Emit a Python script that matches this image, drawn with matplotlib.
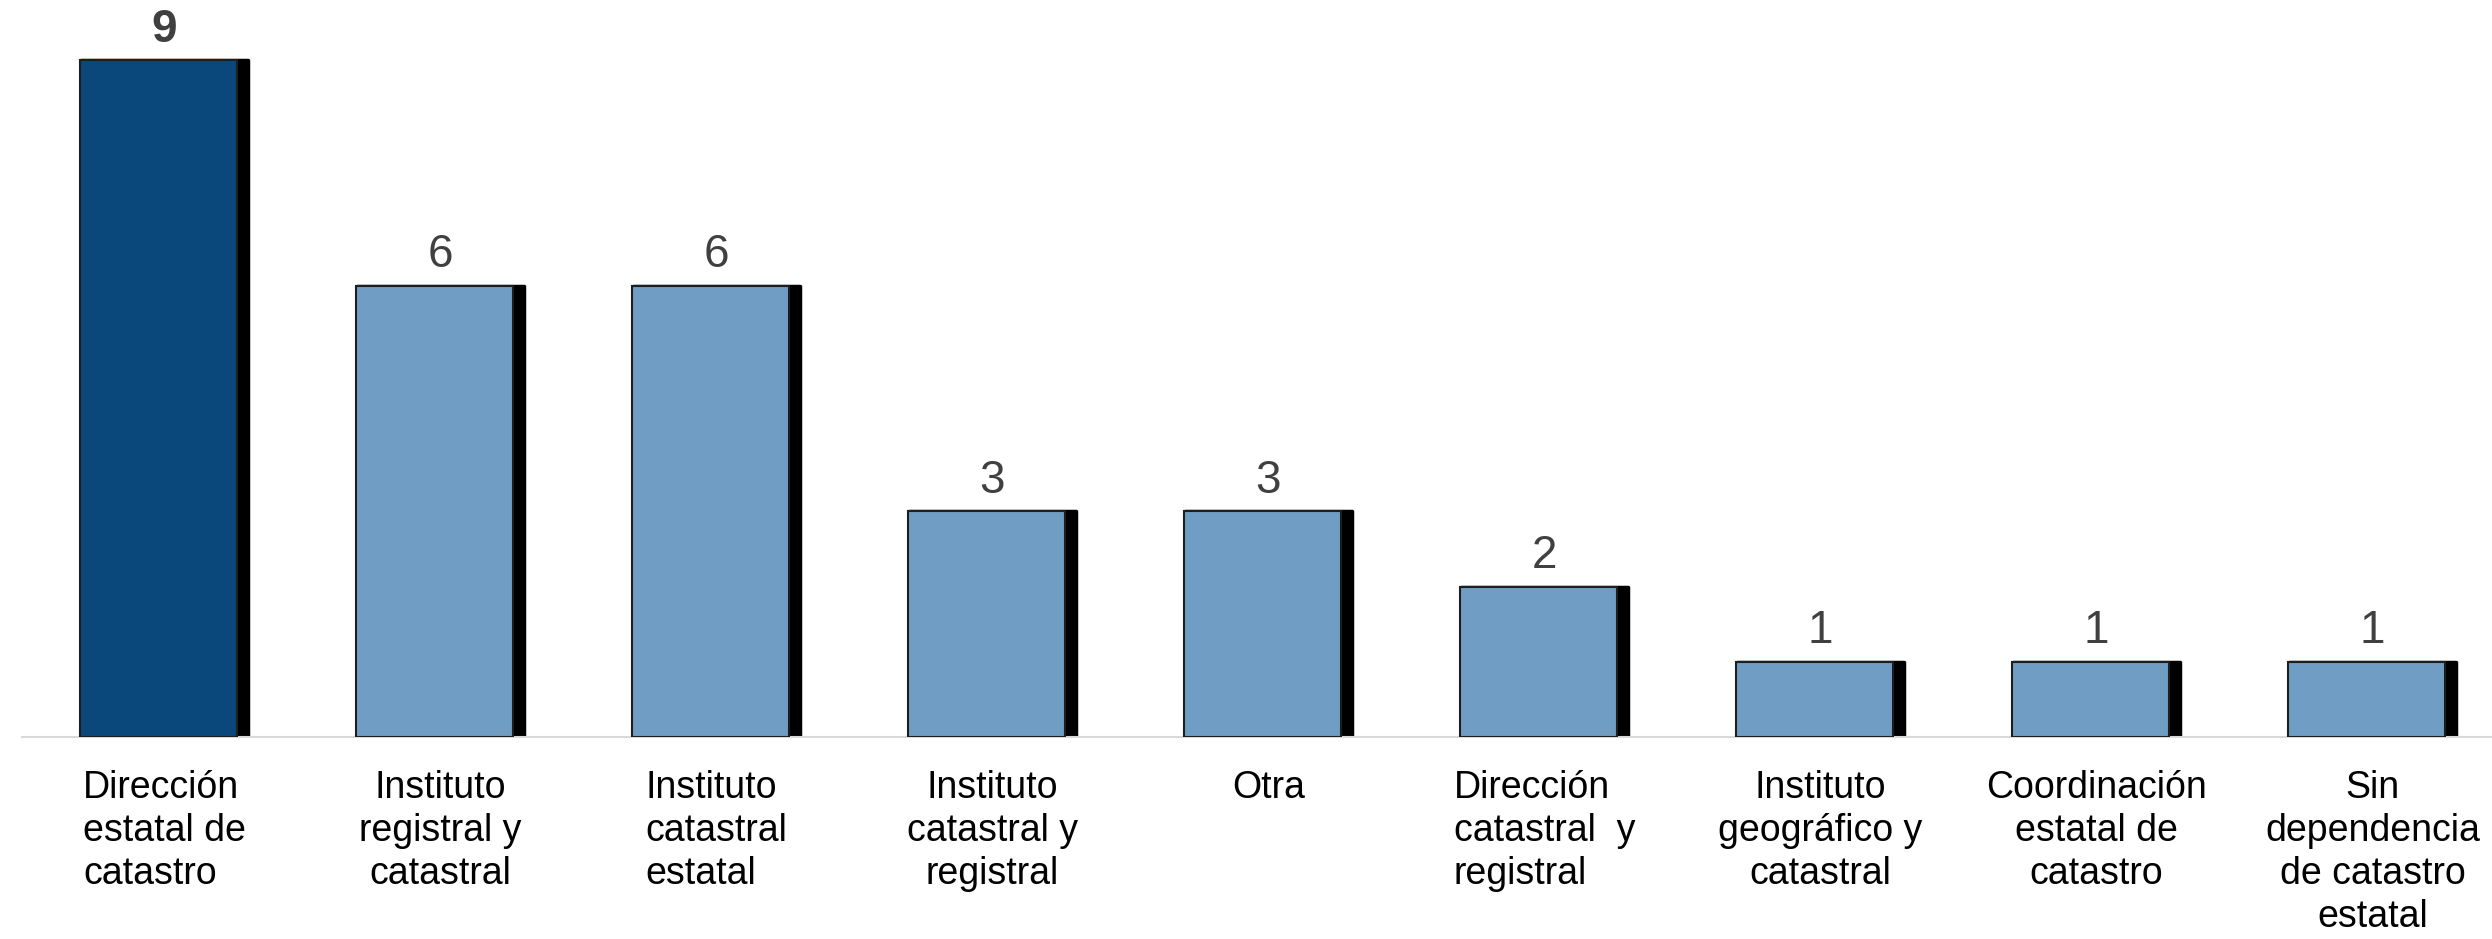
import matplotlib.pyplot as plt
import numpy as np

plt.rcParams['font.family'] = ['Liberation Sans', 'DejaVu Sans']

# data
categories = [
    "Dirección\nestatal de\ncatastro",
    "Instituto\nregistral y\ncatastral",
    "Instituto\ncatastral\nestatal",
    "Instituto\ncatastral y\nregistral",
    "Otra",
    "Dirección\ncatastral  y\nregistral",
    "Instituto\ngeográfico y\ncatastral",
    "Coordinación\nestatal de\ncatastro",
    "Sin\ndependencia\nde catastro\nestatal",
]
values = [9, 6, 6, 3, 3, 2, 1, 1, 1]
label_align = ['left', 'center', 'left', 'center', 'center', 'left',
               'center', 'center', 'center']

dark = '#0A487C'
light = '#6F9DC3'
colors = [dark] + [light] * 8

W, H = 2492, 939
fig = plt.figure(figsize=(W / 100, H / 100), dpi=100)
ax = fig.add_axes([22 / W, (H - 737) / H, 1 - 22 / W, 737 / H])

x = np.arange(len(values))
bw = 0.612
shadow = 0.043

# black shadow strip on the right (rounded corners), then the coloured body
sh = ax.bar(x, values, width=bw - 0.008, color='black', edgecolor='black',
            linewidth=2.5, joinstyle='round', zorder=2)
ax.bar(x - shadow / 2, values, width=bw - shadow, color=colors,
       edgecolor='#1e1e1e', linewidth=1.5, zorder=3)

labels = ax.bar_label(sh, labels=[str(v) for v in values], padding=6,
                      fontsize=33, color='#404040')
labels[0].set_fontweight('bold')

ax.set_xlim(-0.516, 8.433)
ax.set_ylim(0, 9.8)

ax.set_xticks(x)
ax.set_xticklabels(categories, fontsize=27, color='black', linespacing=1.25)
for t, a in zip(ax.get_xticklabels(), label_align):
    t.set_multialignment(a)
ax.tick_params(axis='x', length=0, pad=24)
ax.set_yticks([])

for s in ['top', 'right', 'left']:
    ax.spines[s].set_visible(False)
ax.spines['bottom'].set_color('#d9d9d9')
ax.spines['bottom'].set_linewidth(1.5)

fig.savefig('out.png', dpi=100)
